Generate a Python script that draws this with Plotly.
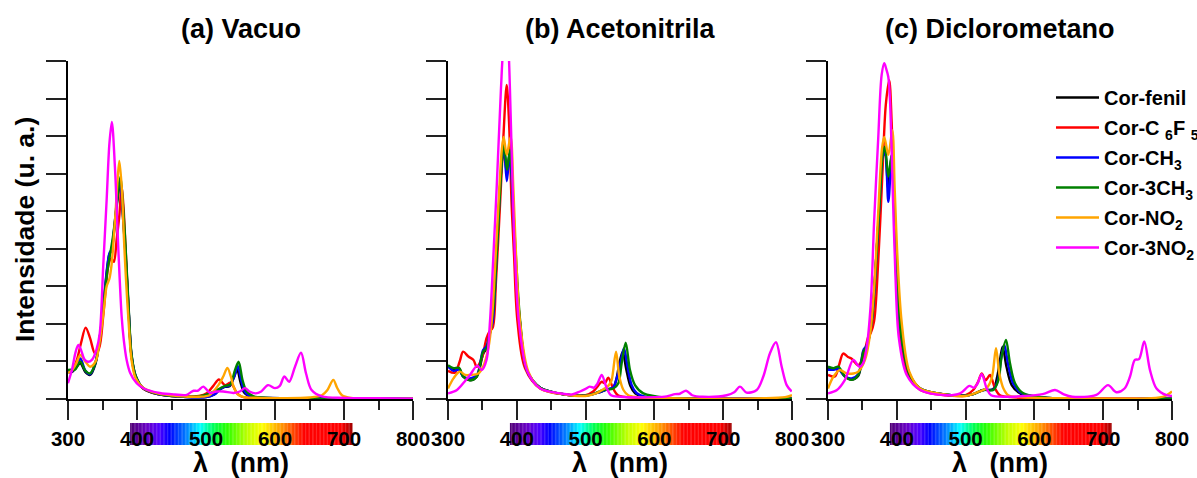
import plotly.graph_objects as go

# ---------------- spectra (wavelength in nm, intensity in arbitrary units) ----------------
# (a) Vacuo
VAC_FENIL_NM = [300, 306, 312, 318, 325, 332, 340, 347, 352, 357, 360, 363, 367, 371, 375.5, 379, 382.5, 388, 392, 398, 409, 430, 460, 500, 512, 520, 527, 534, 540, 545, 550, 555, 562, 575, 620, 700, 800]
VAC_FENIL_I = [0.72, 0.72, 0.85, 0.95, 0.72, 0.64, 0.95, 1.75, 2.6, 3.5, 3.85, 3.95, 4.5, 5.2, 5.75, 5.0, 4.1, 2.3, 1.15, 0.6, 0.28, 0.13, 0.07, 0.05, 0.12, 0.25, 0.32, 0.34, 0.55, 0.78, 0.45, 0.18, 0.08, 0.04, 0.02, 0.01, 0.0]
VAC_C6F5_NM = [300, 307, 313, 319, 325.6, 332, 339, 345, 351, 355, 359, 363, 366.5, 370.5, 374.5, 377.5, 380.5, 383.5, 388, 392, 398, 409, 430, 460, 490, 501, 510.6, 518.8, 527.5, 535.8, 545, 552, 565, 620, 800]
VAC_C6F5_I = [0.72, 0.8, 1.05, 1.5, 1.9, 1.62, 1.22, 1.35, 2.2, 3.0, 3.6, 3.75, 3.65, 4.25, 4.9, 5.7, 5.1, 4.0, 2.3, 1.15, 0.6, 0.28, 0.13, 0.07, 0.08, 0.15, 0.35, 0.52, 0.37, 0.43, 0.15, 0.06, 0.03, 0.01, 0.0]
VAC_CH3_NM = [300, 306, 312, 318, 325, 332, 340, 347, 352, 357, 360, 363, 367, 371, 375.5, 379, 382.5, 388, 392, 398, 409, 430, 460, 500, 512, 520, 527, 534, 541, 546, 551, 556, 563, 575, 620, 700, 800]
VAC_CH3_I = [0.74, 0.74, 0.88, 1.08, 0.76, 0.66, 0.98, 1.78, 2.65, 3.55, 3.88, 3.98, 4.55, 5.3, 5.85, 5.1, 4.15, 2.35, 1.18, 0.62, 0.29, 0.13, 0.07, 0.05, 0.12, 0.25, 0.33, 0.36, 0.6, 0.88, 0.5, 0.2, 0.08, 0.04, 0.02, 0.01, 0.0]
VAC_3CH3_NM = [300, 304, 310, 318, 325, 332, 340, 347, 352, 357, 361, 365, 369, 372.5, 376, 379.5, 383, 388, 392, 398, 409, 430, 460, 490, 506, 520, 527.5, 535, 542, 547.3, 553, 559, 569, 590, 650, 800]
VAC_3CH3_I = [0.77, 0.78, 0.78, 0.99, 0.76, 0.68, 0.98, 1.75, 2.6, 3.4, 3.85, 4.3, 4.9, 5.5, 5.92, 5.2, 4.2, 2.4, 1.2, 0.62, 0.29, 0.14, 0.07, 0.07, 0.15, 0.28, 0.35, 0.38, 0.77, 0.99, 0.5, 0.2, 0.07, 0.03, 0.01, 0.0]
VAC_NO2_NM = [300, 305, 312, 318, 325, 332, 340, 346, 352, 356, 360, 363, 366, 369, 371.5, 374.4, 378, 381, 384, 388, 392, 398, 409, 430, 460, 490, 505, 518, 525, 531, 536, 540, 546, 555, 580, 650, 668, 676, 684.5, 690, 697, 710, 800]
VAC_NO2_I = [0.7, 0.75, 0.95, 1.17, 1.0, 0.86, 1.0, 1.55, 2.4, 3.0, 3.2, 3.55, 4.2, 5.0, 5.74, 6.34, 5.6, 4.3, 3.2, 2.0, 1.05, 0.55, 0.3, 0.15, 0.08, 0.06, 0.1, 0.37, 0.6, 0.83, 0.6, 0.33, 0.12, 0.05, 0.03, 0.04, 0.1, 0.24, 0.51, 0.3, 0.1, 0.03, 0.0]
VAC_3NO2_NM = [300, 306, 311, 315, 319, 324, 329, 335, 341, 346, 351, 356, 360, 363.5, 368, 373, 377.8, 381, 385, 390, 399.5, 410, 433, 455, 472, 478, 482, 488, 496, 506, 515, 525, 540, 549, 556.5, 563, 572, 580, 590, 600, 607, 613.5, 620.5, 629, 637.7, 645, 653, 668, 700, 750, 800]
VAC_3NO2_I = [0.42, 0.8, 1.25, 1.44, 1.3, 1.05, 0.99, 1.05, 1.3, 1.75, 3.52, 5.3, 6.8, 7.38, 6.18, 3.97, 2.19, 1.55, 1.04, 0.7, 0.42, 0.28, 0.16, 0.12, 0.11, 0.18, 0.22, 0.22, 0.33, 0.16, 0.2, 0.2, 0.16, 0.2, 0.29, 0.2, 0.15, 0.2, 0.37, 0.29, 0.35, 0.6, 0.46, 0.86, 1.23, 0.68, 0.24, 0.07, 0.03, 0.02, 0.01]

# (b) Acetonitrila
ACN_FENIL_NM = [300, 308, 316, 322, 332, 342, 351, 356, 361, 365, 370.7, 375.5, 379, 381.5, 385.5, 389.5, 392, 395, 398.5, 404.5, 415, 434, 470, 500, 520, 530, 540, 545, 549, 554, 559, 565, 572, 584, 620, 800]
ACN_FENIL_I = [0.88, 0.8, 0.82, 0.6, 0.5, 0.6, 1.2, 1.35, 1.75, 2.06, 3.83, 5.6, 6.4, 6.6, 6.0, 6.55, 6.1, 4.9, 3.6, 2.06, 0.75, 0.3, 0.12, 0.09, 0.18, 0.25, 0.3, 0.55, 0.95, 1.26, 0.8, 0.35, 0.15, 0.06, 0.02, 0.01]
ACN_C6F5_NM = [300, 310, 317, 322, 329.6, 337, 341.7, 349, 356, 360, 365, 369.7, 375.6, 380.4, 385.3, 388.7, 392.5, 396, 401, 412, 434, 470, 500, 511, 518, 523.4, 528, 533, 540, 547, 560, 600, 800]
ACN_C6F5_I = [0.75, 0.7, 1.0, 1.26, 1.13, 1.04, 0.86, 1.08, 1.62, 1.79, 1.9, 3.12, 5.17, 6.94, 8.36, 7.38, 5.17, 3.83, 2.06, 0.82, 0.28, 0.12, 0.1, 0.2, 0.35, 0.46, 0.42, 0.57, 0.28, 0.1, 0.05, 0.02, 0.01]
ACN_CH3_NM = [300, 308, 316, 322, 332, 342, 351, 356, 361, 365, 370.7, 375.5, 379, 381.5, 385.5, 389.5, 392, 395, 398.5, 404.5, 415, 434, 470, 500, 520, 530, 540, 546, 551, 555.8, 561, 567, 574, 586, 620, 800]
ACN_CH3_I = [0.86, 0.75, 0.78, 0.6, 0.55, 0.64, 1.3, 1.4, 1.78, 2.06, 3.83, 5.6, 6.45, 6.65, 5.8, 6.5, 6.05, 4.9, 3.6, 2.06, 0.75, 0.3, 0.12, 0.09, 0.18, 0.25, 0.31, 0.6, 1.0, 1.35, 0.85, 0.37, 0.16, 0.06, 0.02, 0.01]
ACN_3CH3_NM = [300, 308, 316, 322, 332, 342, 351, 356, 361, 366, 370.7, 375.6, 379, 381.5, 385.8, 390, 392.5, 395.5, 399, 405, 415, 434, 470, 500, 511, 525.8, 540.3, 547.6, 552.4, 558.3, 564.5, 571.8, 583.9, 620, 800]
ACN_3CH3_I = [0.9, 0.82, 0.83, 0.6, 0.5, 0.6, 1.26, 1.35, 1.79, 2.41, 3.83, 5.5, 6.5, 6.8, 6.1, 6.63, 6.1, 4.9, 3.7, 2.06, 0.75, 0.3, 0.12, 0.09, 0.13, 0.24, 0.28, 0.42, 0.95, 1.5, 0.77, 0.37, 0.15, 0.03, 0.01]
ACN_NO2_NM = [300, 308, 317, 325, 332, 344, 351, 358.6, 363.5, 368.3, 374.6, 378, 380.9, 385.3, 391, 395, 398.9, 404.7, 416.8, 434, 470, 500, 515, 525.8, 530, 535, 538, 544.2, 549, 555, 562, 575, 620, 760, 790, 800]
ACN_NO2_I = [0.28, 0.55, 0.73, 0.64, 0.64, 0.68, 0.86, 1.35, 2.06, 3.48, 5.61, 6.6, 6.98, 6.5, 6.98, 5.61, 3.83, 2.06, 0.73, 0.28, 0.12, 0.08, 0.15, 0.26, 0.3, 0.4, 0.51, 1.26, 0.6, 0.24, 0.1, 0.05, 0.02, 0.02, 0.05, 0.1]
ACN_3NO2_NM = [300, 313, 324, 332, 342.6, 349, 356, 361, 366, 370.7, 377, 380.5, 384, 387.5, 390, 394, 397.3, 403, 415.4, 434, 462.8, 480, 491.9, 500, 506, 512, 517, 523.4, 530.7, 537, 550, 600, 617.8, 630, 637, 646, 655, 670, 705, 716, 724.4, 734, 748.7, 758.3, 768, 776.7, 785, 792.3, 799.5]
ACN_3NO2_I = [0.15, 0.24, 0.46, 0.64, 0.89, 0.77, 1.04, 2.06, 3.83, 5.61, 8.27, 9.4, 9.8, 9.4, 8.27, 5.61, 3.83, 2.06, 0.73, 0.28, 0.15, 0.12, 0.2, 0.27, 0.33, 0.3, 0.4, 0.64, 0.29, 0.1, 0.06, 0.05, 0.07, 0.13, 0.14, 0.22, 0.1, 0.06, 0.1, 0.18, 0.33, 0.17, 0.24, 0.6, 1.22, 1.51, 0.86, 0.37, 0.2]

# (c) Diclorometano
DCM_FENIL_NM = [300, 308, 315, 324.6, 334.4, 344, 351.4, 356, 363.5, 369.8, 375.6, 379.5, 382.8, 387.7, 392.5, 396, 400, 407, 419, 434, 470, 500, 511, 525.8, 540, 546, 550.5, 553.9, 559.5, 567, 580, 620, 800]
DCM_FENIL_I = [0.84, 0.8, 0.82, 0.6, 0.52, 0.62, 1.22, 1.36, 2.06, 3.66, 5.43, 6.45, 6.6, 5.6, 6.5, 5.17, 3.39, 1.62, 0.64, 0.28, 0.12, 0.09, 0.13, 0.24, 0.26, 0.6, 1.1, 1.39, 0.85, 0.37, 0.14, 0.03, 0.01]
DCM_C6F5_NM = [300, 310, 316, 322, 329, 334, 344, 351, 358.6, 362, 366.9, 373, 379.2, 384, 389, 392.5, 396, 399.8, 405.6, 416.8, 434, 470, 500, 511, 518, 523.4, 529.2, 535.5, 542.8, 550, 565, 620, 800]
DCM_C6F5_I = [0.64, 0.6, 0.9, 1.21, 1.12, 1.08, 0.9, 1.12, 1.66, 1.75, 2.06, 3.66, 6.05, 7.83, 8.49, 7.38, 5.17, 2.95, 1.44, 0.64, 0.24, 0.1, 0.1, 0.24, 0.45, 0.68, 0.5, 0.64, 0.28, 0.1, 0.05, 0.02, 0.01]
DCM_CH3_NM = [300, 308, 315, 324.6, 334.4, 344, 351.4, 356, 363.5, 369.8, 375.6, 379.5, 382.8, 387.7, 392.5, 396, 400, 407, 419, 434, 470, 500, 511, 525.8, 540.3, 547, 551.8, 556.3, 562, 569.5, 582, 620, 800]
DCM_CH3_I = [0.78, 0.78, 0.8, 0.6, 0.55, 0.66, 1.3, 1.42, 2.06, 3.66, 5.43, 6.45, 6.55, 5.25, 6.45, 5.17, 3.39, 1.62, 0.64, 0.28, 0.12, 0.09, 0.13, 0.24, 0.25, 0.5, 1.1, 1.44, 0.9, 0.4, 0.15, 0.03, 0.01]
DCM_3CH3_NM = [300, 308, 315, 324.6, 334.4, 344, 351.4, 356, 363.5, 369.8, 375.6, 379.5, 382.8, 387.7, 392.5, 396, 400, 407, 419, 434, 470, 500, 511, 525.8, 540.3, 547.6, 552.4, 558.7, 564.5, 571.8, 584, 620, 800]
DCM_3CH3_I = [0.86, 0.82, 0.86, 0.6, 0.51, 0.64, 1.26, 1.39, 2.06, 3.66, 5.43, 6.5, 6.72, 5.92, 6.5, 5.17, 3.39, 1.62, 0.64, 0.28, 0.12, 0.09, 0.13, 0.24, 0.24, 0.5, 1.13, 1.57, 0.95, 0.42, 0.15, 0.03, 0.01]
DCM_NO2_NM = [300, 308, 317, 327, 337, 344, 353.8, 361, 367, 373, 378.5, 381.8, 387.7, 393.5, 396.9, 400.8, 407, 418.2, 434, 470, 500, 520, 530, 538, 544.2, 549, 555, 562, 580, 650, 770, 790, 800]
DCM_NO2_I = [0.28, 0.6, 0.77, 0.68, 0.68, 0.73, 1.04, 1.7, 2.95, 4.96, 6.67, 6.98, 6.5, 7.16, 5.61, 3.83, 2.06, 0.73, 0.28, 0.12, 0.08, 0.2, 0.28, 0.55, 1.35, 0.68, 0.28, 0.1, 0.05, 0.02, 0.02, 0.08, 0.2]
DCM_3NO2_NM = [300, 313, 324.6, 336.8, 345.5, 351, 356, 362, 367, 373, 378, 381.8, 384.5, 387.6, 390, 394, 397.8, 403, 414.4, 434, 472, 492, 505.6, 512, 517, 523.4, 530.7, 537, 560, 612, 630, 642, 655, 690, 707, 719, 731, 739, 746, 752, 759.7, 768, 777.5, 792, 800]
DCM_3NO2_I = [0.15, 0.24, 0.51, 1.04, 0.86, 0.95, 1.35, 2.5, 4.72, 6.94, 8.63, 8.94, 8.8, 8.58, 8.0, 5.61, 3.39, 1.62, 0.64, 0.24, 0.1, 0.15, 0.35, 0.3, 0.4, 0.66, 0.28, 0.1, 0.06, 0.13, 0.24, 0.13, 0.06, 0.11, 0.37, 0.18, 0.28, 0.6, 1.04, 1.06, 1.53, 0.77, 0.28, 0.1, 0.08]

# ---------------- labels ----------------
PANEL_TITLES = ["(a) Vacuo", "(b) Acetonitrila", "(c) Diclorometano"]
SERIES_NAMES = ["Cor-fenil", "Cor-C <sub>6</sub>F <sub>5</sub>", "Cor-CH<sub>3</sub>",
                "Cor-3CH<sub>3</sub>", "Cor-NO<sub>2</sub>", "Cor-3NO<sub>2</sub>"]
SERIES_COLORS = ["#000000", "#ff0000", "#0000ff", "#008000", "#ffa500", "#ff00ff"]
X_TICKS = [300, 400, 500, 600, 700, 800]
X_TITLE = "λ\u00a0\u00a0\u00a0(nm)"
Y_TITLE = "Intensidade (u. a.)"

PANELS = [
    [(VAC_FENIL_NM, VAC_FENIL_I), (VAC_C6F5_NM, VAC_C6F5_I), (VAC_CH3_NM, VAC_CH3_I),
     (VAC_3CH3_NM, VAC_3CH3_I), (VAC_NO2_NM, VAC_NO2_I), (VAC_3NO2_NM, VAC_3NO2_I)],
    [(ACN_FENIL_NM, ACN_FENIL_I), (ACN_C6F5_NM, ACN_C6F5_I), (ACN_CH3_NM, ACN_CH3_I),
     (ACN_3CH3_NM, ACN_3CH3_I), (ACN_NO2_NM, ACN_NO2_I), (ACN_3NO2_NM, ACN_3NO2_I)],
    [(DCM_FENIL_NM, DCM_FENIL_I), (DCM_C6F5_NM, DCM_C6F5_I), (DCM_CH3_NM, DCM_CH3_I),
     (DCM_3CH3_NM, DCM_3CH3_I), (DCM_NO2_NM, DCM_NO2_I), (DCM_3NO2_NM, DCM_3NO2_I)],
]

# visible-spectrum strip shown behind the wavelength tick labels
SPECTRUM_STOPS = [(390, (80, 0, 115)), (415, (105, 0, 200)), (432, (80, 0, 255)), (447, (0, 0, 255)),
                  (470, (0, 120, 255)), (492, (0, 255, 255)), (512, (0, 255, 80)), (530, (40, 255, 0)),
                  (560, (190, 255, 0)), (582, (255, 255, 0)), (612, (255, 140, 0)), (642, (255, 0, 0)),
                  (696, (255, 0, 0)), (712, (160, 0, 0))]

W, H = 1197, 478
FONT = "Arial, 'Liberation Sans', sans-serif"


def spectrum_color(wl):
    for (w0, c0), (w1, c1) in zip(SPECTRUM_STOPS[:-1], SPECTRUM_STOPS[1:]):
        if w0 <= wl <= w1:
            t = (wl - w0) / (w1 - w0)
            r, g, b = (round(a + (bb - a) * t) for a, bb in zip(c0, c1))
            return f"rgb({r},{g},{b})"
    return "rgb(160,0,0)"


x_px = [(68, 413), (448, 792), (828, 1172)]
y_dom = [1 - 399 / H, 1 - 61 / H]

fig = go.Figure()
for p, curves in enumerate(PANELS):
    ax = "" if p == 0 else str(p + 1)
    for s, (nm, inten) in enumerate(curves):
        fig.add_trace(go.Scatter(
            x=nm, y=inten, mode="lines", name=SERIES_NAMES[s],
            line=dict(color=SERIES_COLORS[s], width=2.4, shape="spline", smoothing=0.9),
            xaxis="x" + ax, yaxis="y" + ax,
            showlegend=(p == 2), legendgroup=SERIES_NAMES[s],
        ))

layout_axes = {}
for p in range(3):
    ax = "" if p == 0 else str(p + 1)
    layout_axes["xaxis" + ax] = dict(
        domain=[x_px[p][0] / W, x_px[p][1] / W], range=[300, 800],
        tickvals=X_TICKS, ticks="outside", ticklen=19, tickwidth=1.6, tickcolor="#222",
        minor=dict(dtick=50, tick0=300, ticks="outside", ticklen=9, tickwidth=1.6, tickcolor="#222"),
        showline=True, linewidth=2, linecolor="black", showgrid=False, zeroline=False,
        tickfont=dict(family=FONT, size=20.5, color="black", weight="bold"),
        ticklabelstandoff=1, anchor="y" + ax, fixedrange=True, automargin=False,
    )
    layout_axes["yaxis" + ax] = dict(
        domain=y_dom, range=[0, 9], dtick=1, tick0=0, ticks="outside", ticklen=20,
        tickwidth=1.6, tickcolor="#222", showticklabels=False,
        showline=True, linewidth=2, linecolor="black", showgrid=False, zeroline=False,
        anchor="x" + ax, fixedrange=True, automargin=False,
    )

shapes = []
bar_y0, bar_y1 = 1 - 445 / H, 1 - 423 / H
for p in range(3):
    ax = "x" if p == 0 else "x" + str(p + 1)
    for wl in range(390, 711, 2):
        shapes.append(dict(type="rect", xref=ax, yref="paper", x0=wl, x1=wl + 2.3,
                           y0=bar_y0, y1=bar_y1, fillcolor=spectrum_color(wl + 1),
                           line=dict(width=0), layer="below"))

annotations = []
for p in range(3):
    ax = "x" if p == 0 else "x" + str(p + 1)
    annotations.append(dict(text=PANEL_TITLES[p], xref=ax + " domain", yref="paper", x=0.5, y=1 - 29 / H,
                            showarrow=False, xanchor="center", yanchor="middle",
                            font=dict(family=FONT, size=27, color="black", weight="bold")))
    annotations.append(dict(text=X_TITLE, xref=ax + " domain", yref="paper", x=0.5, y=1 - 463 / H,
                            showarrow=False, xanchor="center", yanchor="middle",
                            font=dict(family=FONT, size=27, color="black", weight="bold")))
annotations.append(dict(text=Y_TITLE, xref="paper", yref="paper", x=25 / W, y=1 - 230 / H,
                        showarrow=False, textangle=-90, xanchor="center", yanchor="middle",
                        font=dict(family=FONT, size=26.5, color="black", weight="bold")))

fig.update_layout(
    width=W, height=H, margin=dict(l=0, r=0, t=0, b=0, autoexpand=False),
    paper_bgcolor="white", plot_bgcolor="white",
    shapes=shapes, annotations=annotations,
    legend=dict(x=1051 / W, y=1 - 78 / H, xanchor="left", yanchor="top",
                font=dict(family=FONT, size=20, color="black", weight="bold"),
                itemwidth=43, tracegroupgap=1, bgcolor="rgba(0,0,0,0)", borderwidth=0),
    showlegend=True,
    **layout_axes,
)

fig.write_html("out.html")
